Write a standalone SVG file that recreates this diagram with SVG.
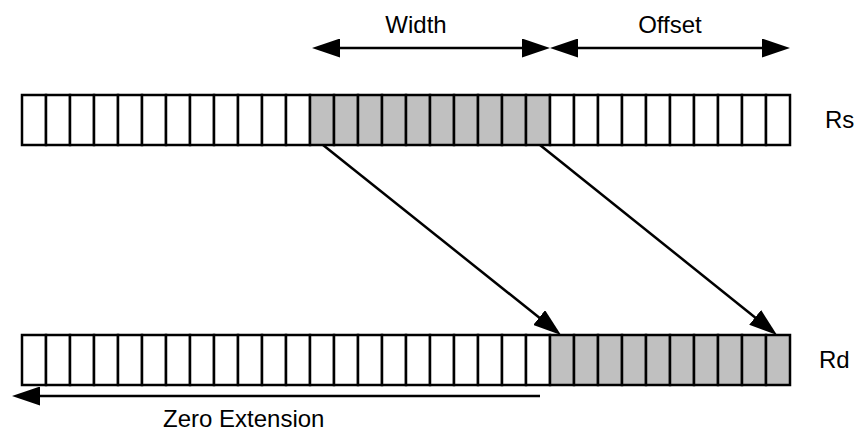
<svg xmlns="http://www.w3.org/2000/svg" width="860" height="432" viewBox="0 0 860 432">
<style>
.c{fill:#ffffff;stroke:#000;stroke-width:2.5}
.g{fill:#c0c0c0;stroke:#000;stroke-width:2.5}
.ln{stroke:#000;stroke-width:2.5;fill:none}
.t{font-family:"Liberation Sans",Arial,sans-serif;font-size:24px;fill:#000}
</style>
<defs>
<marker id="ah" markerUnits="userSpaceOnUse" markerWidth="28" markerHeight="19" refX="18" refY="9.5" orient="auto-start-reverse" viewBox="0 0 28 19">
<path d="M0,0 L28,9.5 L0,19 z" fill="#000"/>
</marker>
</defs>
<rect width="860" height="432" fill="#fff"/>
<g id="Rs">
<rect class="c" x="22" y="95" width="24" height="50"/>
<rect class="c" x="46" y="95" width="24" height="50"/>
<rect class="c" x="70" y="95" width="24" height="50"/>
<rect class="c" x="94" y="95" width="24" height="50"/>
<rect class="c" x="118" y="95" width="24" height="50"/>
<rect class="c" x="142" y="95" width="24" height="50"/>
<rect class="c" x="166" y="95" width="24" height="50"/>
<rect class="c" x="190" y="95" width="24" height="50"/>
<rect class="c" x="214" y="95" width="24" height="50"/>
<rect class="c" x="238" y="95" width="24" height="50"/>
<rect class="c" x="262" y="95" width="24" height="50"/>
<rect class="c" x="286" y="95" width="24" height="50"/>
<rect class="g" x="310" y="95" width="24" height="50"/>
<rect class="g" x="334" y="95" width="24" height="50"/>
<rect class="g" x="358" y="95" width="24" height="50"/>
<rect class="g" x="382" y="95" width="24" height="50"/>
<rect class="g" x="406" y="95" width="24" height="50"/>
<rect class="g" x="430" y="95" width="24" height="50"/>
<rect class="g" x="454" y="95" width="24" height="50"/>
<rect class="g" x="478" y="95" width="24" height="50"/>
<rect class="g" x="502" y="95" width="24" height="50"/>
<rect class="g" x="526" y="95" width="24" height="50"/>
<rect class="c" x="550" y="95" width="24" height="50"/>
<rect class="c" x="574" y="95" width="24" height="50"/>
<rect class="c" x="598" y="95" width="24" height="50"/>
<rect class="c" x="622" y="95" width="24" height="50"/>
<rect class="c" x="646" y="95" width="24" height="50"/>
<rect class="c" x="670" y="95" width="24" height="50"/>
<rect class="c" x="694" y="95" width="24" height="50"/>
<rect class="c" x="718" y="95" width="24" height="50"/>
<rect class="c" x="742" y="95" width="24" height="50"/>
<rect class="c" x="766" y="95" width="24" height="50"/>
<text class="t" x="825" y="128">Rs</text>
</g>
<g id="Rd">
<rect class="c" x="22" y="335" width="24" height="50"/>
<rect class="c" x="46" y="335" width="24" height="50"/>
<rect class="c" x="70" y="335" width="24" height="50"/>
<rect class="c" x="94" y="335" width="24" height="50"/>
<rect class="c" x="118" y="335" width="24" height="50"/>
<rect class="c" x="142" y="335" width="24" height="50"/>
<rect class="c" x="166" y="335" width="24" height="50"/>
<rect class="c" x="190" y="335" width="24" height="50"/>
<rect class="c" x="214" y="335" width="24" height="50"/>
<rect class="c" x="238" y="335" width="24" height="50"/>
<rect class="c" x="262" y="335" width="24" height="50"/>
<rect class="c" x="286" y="335" width="24" height="50"/>
<rect class="c" x="310" y="335" width="24" height="50"/>
<rect class="c" x="334" y="335" width="24" height="50"/>
<rect class="c" x="358" y="335" width="24" height="50"/>
<rect class="c" x="382" y="335" width="24" height="50"/>
<rect class="c" x="406" y="335" width="24" height="50"/>
<rect class="c" x="430" y="335" width="24" height="50"/>
<rect class="c" x="454" y="335" width="24" height="50"/>
<rect class="c" x="478" y="335" width="24" height="50"/>
<rect class="c" x="502" y="335" width="24" height="50"/>
<rect class="c" x="526" y="335" width="24" height="50"/>
<rect class="g" x="550" y="335" width="24" height="50"/>
<rect class="g" x="574" y="335" width="24" height="50"/>
<rect class="g" x="598" y="335" width="24" height="50"/>
<rect class="g" x="622" y="335" width="24" height="50"/>
<rect class="g" x="646" y="335" width="24" height="50"/>
<rect class="g" x="670" y="335" width="24" height="50"/>
<rect class="g" x="694" y="335" width="24" height="50"/>
<rect class="g" x="718" y="335" width="24" height="50"/>
<rect class="g" x="742" y="335" width="24" height="50"/>
<rect class="g" x="766" y="335" width="24" height="50"/>
<text class="t" x="819" y="368">Rd</text>
</g>
<g id="connectors">
<line class="ln" x1="322" y1="48" x2="540" y2="48" marker-start="url(#ah)" marker-end="url(#ah)"/>
<line class="ln" x1="560" y1="48" x2="780" y2="48" marker-start="url(#ah)" marker-end="url(#ah)"/>
<line class="ln" x1="323" y1="145" x2="553.2" y2="328.8" marker-end="url(#ah)"/>
<line class="ln" x1="540" y1="145" x2="769.2" y2="328.7" marker-end="url(#ah)"/>
<line class="ln" x1="540" y1="396" x2="22" y2="396" marker-end="url(#ah)"/>
</g>
<g id="labels">
<text class="t" x="416" y="33" text-anchor="middle">Width</text>
<text class="t" x="670" y="33" text-anchor="middle">Offset</text>
<text class="t" x="163" y="427">Zero Extension</text>
</g>
</svg>
